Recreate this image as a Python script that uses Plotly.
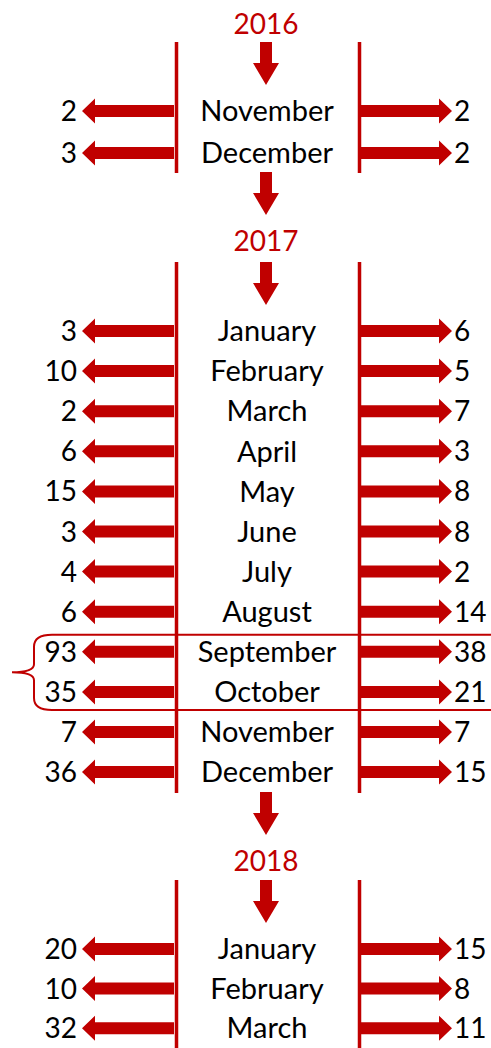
import plotly.graph_objects as go

# data
years = ["2016", "2017", "2018"]
months_2016 = ["November", "December"]
left_2016 = [2, 3]
right_2016 = [2, 2]
months_2017 = ["January", "February", "March", "April", "May", "June",
               "July", "August", "September", "October", "November", "December"]
left_2017 = [3, 10, 2, 6, 15, 3, 4, 6, 93, 35, 7, 36]
right_2017 = [6, 5, 7, 3, 8, 8, 2, 14, 38, 21, 7, 15]
months_2018 = ["January", "February", "March"]
left_2018 = [20, 10, 32]
right_2018 = [15, 8, 11]

RED = "#C00000"
FONT = "Lato"
W, H = 491, 1048
XL, XR, XC = 176.5, 359.5, 267
TDY = 3  # text baseline nudge

# section layout: year label y, line top, line bottom, first row y, row step
sections = [
    dict(year=years[0], months=months_2016, left=left_2016, right=right_2016,
         ylab=27, top=42, bot=173, y0=111, step=42),
    dict(year=years[1], months=months_2017, left=left_2017, right=right_2017,
         ylab=244, top=262, bot=793, y0=331, step=40.1),
    dict(year=years[2], months=months_2018, left=left_2018, right=right_2018,
         ylab=864, top=880, bot=1050, y0=949, step=39.6),
]


def harrow(tail, tip, y, shaft=6, head=12.5, hl=13):
    d = 1 if tip > tail else -1
    neck = tip - d * hl
    xs = [tail, neck, neck, tip, neck, neck, tail, tail, None]
    ys = [y - shaft, y - shaft, y - head, y, y + head, y + shaft, y + shaft, y - shaft, None]
    return xs, ys


def varrow(x, top, bot, shaft=6, head=13, hl=22):
    neck = bot - hl
    xs = [x - shaft, x + shaft, x + shaft, x + head, x, x - head, x - shaft, x - shaft, None]
    ys = [top, top, neck, neck, bot, neck, neck, top, None]
    return xs, ys


ax, ay = [], []
mx, my, mt = [], [], []
lnx, lny, lnt = [], [], []
rnx, rny, rnt = [], [], []
vx, vy = [], []
yx, yy, yt = [], [], []

for i, s in enumerate(sections):
    yx.append(XC - 1)
    yy.append(s["ylab"])
    yt.append(s["year"])
    for x in (XL, XR):
        vx += [x, x, None]
        vy += [s["top"], s["bot"], None]
    a = varrow(XC - 1, s["top"], s["top"] + 43)
    ax += a[0]
    ay += a[1]
    for j, m in enumerate(s["months"]):
        y = s["y0"] + j * s["step"]
        mx.append(XC)
        my.append(y + TDY)
        mt.append(m)
        a = harrow(174, 82, y)
        ax += a[0]
        ay += a[1]
        a = harrow(361, 452, y)
        ax += a[0]
        ay += a[1]
        lnx.append(77)
        lny.append(y + TDY)
        lnt.append(str(s["left"][j]))
        rnx.append(454)
        rny.append(y + TDY)
        rnt.append(str(s["right"][j]))
    if i < len(sections) - 1:
        a = varrow(XC - 1, s["bot"] - 1, s["bot"] + 42)
        ax += a[0]
        ay += a[1]

fig = go.Figure()
fig.add_trace(go.Scatter(x=vx, y=vy, mode="lines", line=dict(color=RED, width=3.5),
                         hoverinfo="skip"))
fig.add_trace(go.Scatter(x=ax, y=ay, mode="lines", fill="toself", fillcolor=RED,
                         line=dict(width=0), hoverinfo="skip"))
fig.add_trace(go.Scatter(x=mx, y=my, mode="text", text=mt, textposition="middle center",
                         textfont=dict(family=FONT, size=29, color="black")))
fig.add_trace(go.Scatter(x=lnx, y=lny, mode="text", text=lnt, textposition="middle left",
                         textfont=dict(family=FONT, size=28, color="black")))
fig.add_trace(go.Scatter(x=rnx, y=rny, mode="text", text=rnt, textposition="middle right",
                         textfont=dict(family=FONT, size=28, color="black")))
fig.add_trace(go.Scatter(x=yx, y=yy, mode="text", text=yt, textposition="middle center",
                         textfont=dict(family=FONT, size=28, color=RED)))

# brace around September / October 2017
s = sections[1]
bt = s["y0"] + 7.5 * s["step"] + 3
bb = s["y0"] + 9.5 * s["step"] - 2
bm = (bt + bb) / 2
brace = (f"M {W} {bt} L 52 {bt} Q 34 {bt} 34 {bt + 12} L 34 {bm - 8} "
         f"Q 34 {bm} 12 {bm} Q 34 {bm} 34 {bm + 8} L 34 {bb - 12} "
         f"Q 34 {bb} 52 {bb} L {W} {bb}")
fig.add_shape(type="path", path=brace, line=dict(color=RED, width=2))

fig.update_layout(
    width=W, height=H,
    margin=dict(l=0, r=0, t=0, b=0),
    plot_bgcolor="white", paper_bgcolor="white",
    showlegend=False,
    xaxis=dict(range=[0, W], visible=False, fixedrange=True),
    yaxis=dict(range=[H, 0], visible=False, fixedrange=True),
)

fig.write_html("out.html", config=dict(displayModeBar=False),
               post_script="document.body.style.margin='0';document.body.style.overflow='hidden';")
